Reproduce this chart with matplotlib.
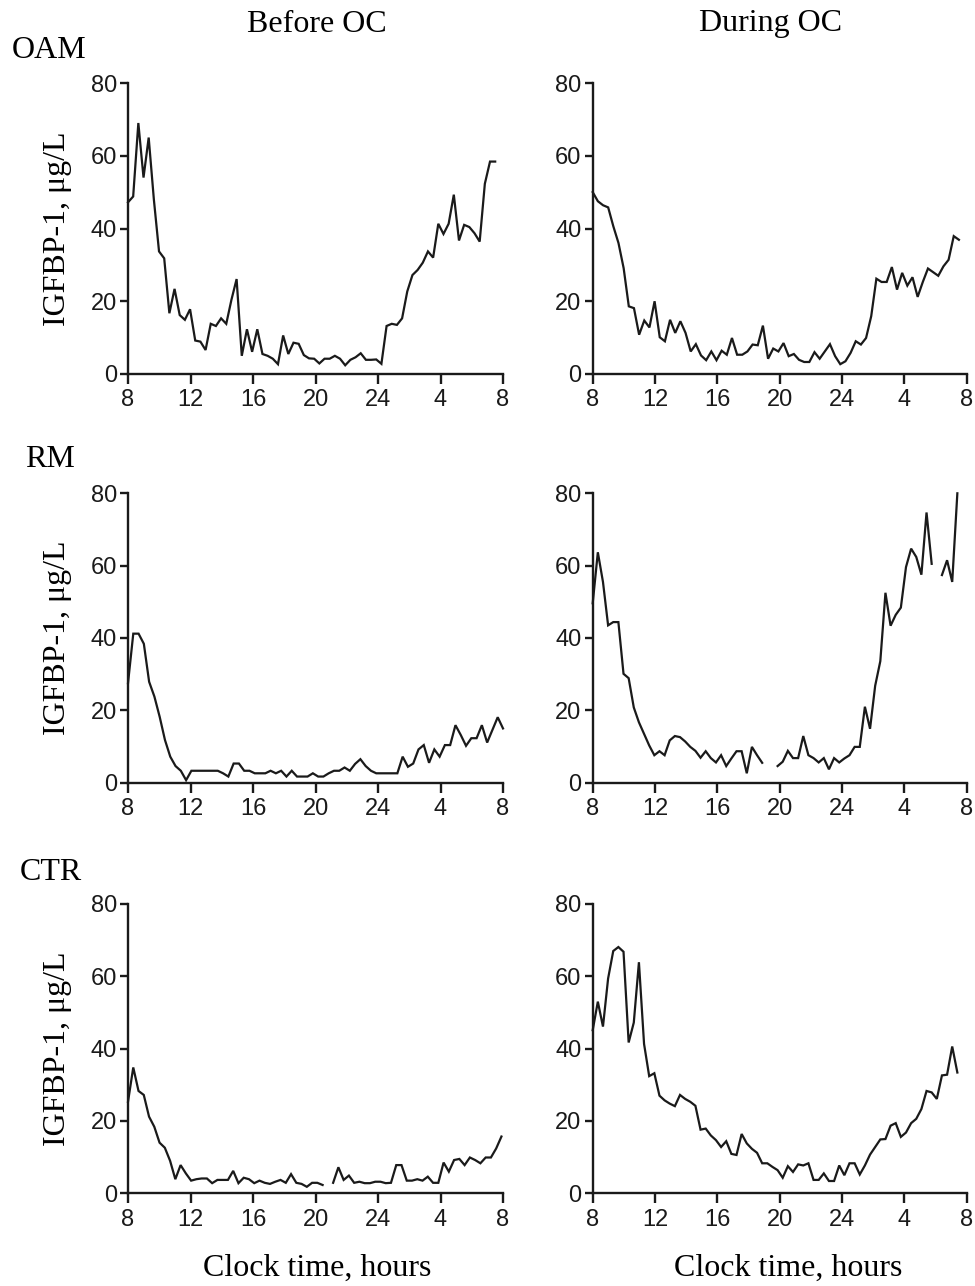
import numpy as np
import matplotlib
matplotlib.use("Agg")
import matplotlib.pyplot as plt

nan = np.nan

# ---- data (IGFBP-1, ug/L), ~20-min samples from 08:00 ----
oam_before = [47.2, 48.8, 69, 54, 65, 48, 33.7, 31.8, 16.7, 23.4, 16.2, 14.9, 17.8, 9.2, 8.9,
              6.6, 13.8, 13.2, 15.3, 13.8, 20.4, 26.1, 5.0, 12.3, 6.1, 12.3, 5.5, 5.0, 4.2, 2.7,
              10.6, 5.5, 8.6, 8.3, 5.2, 4.3, 4.2, 2.9, 4.2, 4.2, 5.0, 4.2, 2.4, 3.9, 4.6,
              5.7, 3.9, 3.9, 4.0, 2.8, 13.2, 13.8, 13.5, 15.3, 22.7, 27.2, 28.6, 30.6, 33.7, 32.0,
              41.3, 38.5, 41.3, 49.3, 36.7, 41.0, 40.4, 38.7, 36.4, 52.3, 58.4, 58.4]
oam_during = [50.0, 47.5, 46.4, 45.8, 40.6, 36.0, 29.1, 18.6, 18.1, 10.8, 14.7, 12.8, 20.0, 10.1,
              9.0, 14.9, 11.3, 14.5, 11.3, 6.2, 8.2, 5.1, 3.8, 6.2, 3.8, 6.4, 5.3, 9.9, 5.3, 5.3,
              6.2, 8.1, 7.9, 13.3, 4.2, 7.0, 6.2, 8.5, 4.9, 5.5, 3.9, 3.3, 3.3, 6.0, 4.2, 6.2,
              8.2, 4.9, 2.7, 3.5, 5.8, 9.0, 8.1, 9.9, 15.9, 26.2, 25.3, 25.3, 29.4, 23.2, 27.8,
              24.3, 26.6, 21.2, 25.3, 29.0, 28.0, 27.0, 29.6, 31.4, 37.9, 36.9]
rm_before = [27.5, 41.2, 41.2, 38.4, 27.9, 23.8, 18.2, 11.8, 7.2, 4.6, 3.3, 0.7, 3.3, 3.3, 3.3,
             3.3, 3.3, 3.3, 2.6, 1.7, 5.3, 5.3, 3.3, 3.3, 2.6, 2.6, 2.6, 3.3, 2.6, 3.3, 1.7, 3.3,
             1.7, 1.7, 1.7, 2.6, 1.7, 1.7, 2.6, 3.3, 3.3, 4.2, 3.3, 5.2, 6.5, 4.6, 3.3, 2.6, 2.6,
             2.6, 2.6, 2.6, 7.2, 4.4, 5.3, 9.2, 10.4, 5.5, 9.2, 7.2, 10.4, 10.4, 15.9, 13.2, 10.2,
             12.3, 12.3, 15.9, 11.1, 14.6, 18.1, 15.0]
rm_during = [49.6, 63.7, 55.5, 43.5, 44.4, 44.4, 30.1, 28.9, 20.8, 16.7, 13.5, 10.3, 7.6, 8.7,
             7.6, 11.7, 12.9, 12.6, 11.4, 9.9, 8.8, 6.9, 8.7, 6.8, 5.6, 7.6, 4.6, 6.7, 8.7, 8.7,
             2.6, 9.9, 7.6, 5.5,
             nan, nan,
             4.6, 5.8, 8.8, 6.8, 6.8, 12.9, 7.6, 6.8, 5.6, 6.8, 3.7, 6.8, 5.6, 6.7, 7.6, 9.9,
             9.9, 21.0, 14.9, 26.8, 33.6, 52.5, 43.4, 46.4, 48.4, 59.6, 64.7, 62.4, 57.5, 74.7,
             60.5,
             nan,
             57.4, 61.5, 55.5, 80.0]
ctr_before = [25.3, 34.8, 28.3, 27.2, 21.2, 18.4, 14.0, 12.6, 9.0, 3.9, 7.8, 5.5, 3.5, 3.9, 4.1,
              4.1, 2.8, 3.7, 3.7, 3.7, 6.2, 2.8, 4.3, 3.9, 2.8, 3.5, 2.9, 2.6, 3.2, 3.7, 2.9,
              5.3, 2.9, 2.6, 1.8, 2.9, 2.9, 2.3,
              nan,
              2.9, 7.2, 3.7, 4.9, 2.9, 3.2, 2.8, 2.8, 3.2, 3.2, 2.8, 2.9, 7.8, 7.8, 3.5, 3.5,
              3.9, 3.5, 4.6, 2.9, 2.9, 8.5, 6.0, 9.2, 9.5, 7.8, 9.9, 9.2, 8.3, 9.9, 9.9, 12.4, 15.7]
ctr_during = [45.1, 53.0, 46.1, 59.4, 67.0, 68.1, 66.8, 41.7, 47.2, 63.9, 41.3, 32.4, 33.2, 27.0,
              25.7, 24.8, 24.1, 27.2, 26.1, 25.3, 24.2, 17.6, 17.9, 16.0, 14.7, 12.8, 14.4, 10.9,
              10.6, 16.4, 13.8, 12.3, 11.2, 8.3, 8.3, 7.3, 6.4, 4.3, 7.5, 5.9, 8.0, 7.7, 8.3, 3.7,
              3.7, 5.5, 3.4, 3.4, 7.7, 5.0, 8.3, 8.3, 5.2, 7.7, 10.7, 12.8, 14.9, 15.0, 18.7, 19.4,
              15.6, 16.8, 19.4, 20.6, 23.3, 28.3, 27.9, 26.1, 32.6, 32.8, 40.6, 33.4]

# last sampling time (hours from midnight of day 1) for each series
end_times = {"oam_before": 31.5, "oam_during": 31.5, "rm_before": 32.0,
             "rm_during": 31.4, "ctr_before": 31.9, "ctr_during": 31.4}

groups = ["OAM", "RM", "CTR"]
columns = ["Before OC", "During OC"]
xticks = [8, 12, 16, 20, 24, 28, 32]
xticklabels = ["8", "12", "16", "20", "24", "4", "8"]
yticks = [0, 20, 40, 60, 80]

series = [[("oam_before", oam_before), ("oam_during", oam_during)],
          [("rm_before", rm_before), ("rm_during", rm_during)],
          [("ctr_before", ctr_before), ("ctr_during", ctr_during)]]

W, H = 975, 1286
fig = plt.figure(figsize=(W / 100, H / 100), dpi=100)

SANS = "Liberation Sans"
SERIF = "Liberation Serif"

col_x = [(128, 503), (592.7, 966.7)]
row_y = [(83, 374), (493.3, 782.7), (904, 1193.3)]

for r in range(3):
    for c in range(2):
        x0, x1 = col_x[c]
        y0, y1 = row_y[r]
        ax = fig.add_axes([x0 / W, 1 - y1 / H, (x1 - x0) / W, (y1 - y0) / H])
        name, vals = series[r][c]
        v = np.array(vals, dtype=float)
        t = np.linspace(8, end_times[name], len(v))
        ax.plot(t, v, color="#1a1a1a", lw=1.6, clip_on=False, solid_joinstyle="miter")
        ax.set_xlim(8, 32)
        ax.set_ylim(0, 80)
        for s in ["top", "right"]:
            ax.spines[s].set_visible(False)
        for s in ["left", "bottom"]:
            ax.spines[s].set_linewidth(1.7)
            ax.spines[s].set_color("#1a1a1a")
        ax.set_xticks(xticks)
        ax.set_xticklabels(xticklabels, fontfamily=SANS, fontsize=17)
        ax.set_yticks(yticks)
        ax.set_yticklabels([str(y) for y in yticks], fontfamily=SANS, fontsize=17)
        ax.tick_params(axis="x", direction="out", length=7, width=1.7, pad=4, colors="#1a1a1a")
        ax.tick_params(axis="y", direction="out", length=6, width=1.7, pad=2, colors="#1a1a1a")
        if c == 0:
            fig.text(57 / W, 1 - ((y0 + y1) / 2) / H, "IGFBP-1, μg/L", rotation=90,
                     ha="center", va="center", fontfamily=SERIF, fontsize=23)

# column titles
fig.text(317 / W, 1 - 24 / H, columns[0], ha="center", va="center", fontfamily=SERIF, fontsize=23)
fig.text(771 / W, 1 - 24 / H, columns[1], ha="center", va="center", fontfamily=SERIF, fontsize=23)

# row labels
row_label_pos = [(12, 50), (25, 459), (20, 872)]
for g, (lx, ly) in zip(groups, row_label_pos):
    fig.text(lx / W, 1 - ly / H, g, ha="left", va="center", fontfamily=SERIF, fontsize=23)

# x-axis labels
fig.text(317 / W, 1 - 1268 / H, "Clock time, hours", ha="center", va="center",
         fontfamily=SERIF, fontsize=23)
fig.text(788 / W, 1 - 1268 / H, "Clock time, hours", ha="center", va="center",
         fontfamily=SERIF, fontsize=23)

fig.savefig("out.png", dpi=100, facecolor="white")
